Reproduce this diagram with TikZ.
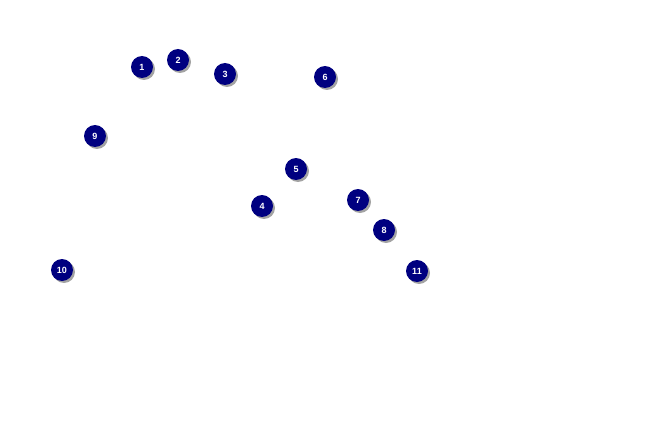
\documentclass[tikz,border=0pt]{standalone}
\usepackage{fontspec}
\setmainfont{Liberation Sans}
\usetikzlibrary{shadows}
\begin{document}
\begin{tikzpicture}[x=1pt,y=-1pt,
  dot/.style={circle,fill={rgb,255:red,0;green,0;blue,128},minimum size=22pt,inner sep=0pt,
    text=white,font=\bfseries\fontsize{9}{9}\selectfont,
    drop shadow={shadow xshift=2pt,shadow yshift=-2pt,fill=black!45,opacity=0.8}}]
\useasboundingbox (0,0) rectangle (650,425);
\node[dot] (n1) at (142,67) {1};
\node[dot] (n2) at (178,60) {2};
\node[dot] (n3) at (225,74) {3};
\node[dot] (n6) at (325,77) {6};
\node[dot] (n9) at (95,136) {9};
\node[dot] (n5) at (296,169) {5};
\node[dot] (n4) at (262,206) {4};
\node[dot] (n7) at (358,200) {7};
\node[dot] (n8) at (384,230) {8};
\node[dot] (n10) at (62,270) {10};
\node[dot] (n11) at (417,271) {11};
\end{tikzpicture}
\end{document}
